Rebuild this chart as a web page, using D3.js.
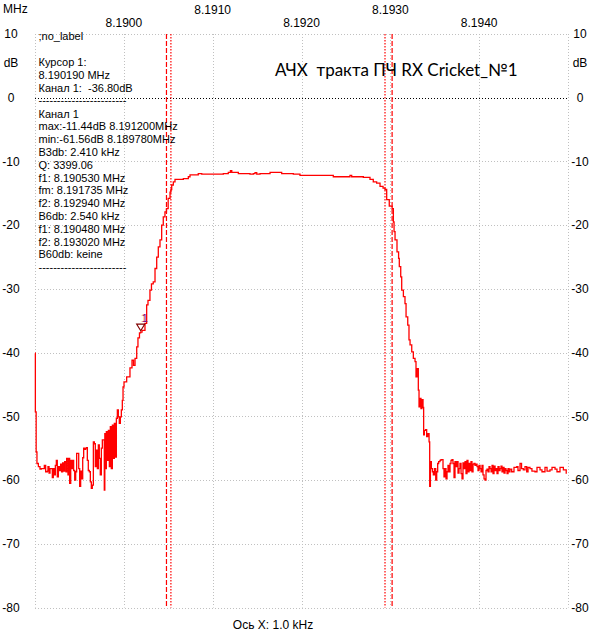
<!DOCTYPE html>
<html>
<head>
<meta charset="utf-8">
<script src="https://cdn.jsdelivr.net/npm/d3@7"></script>
<style>
  body { margin: 0; background: #fff; }
  text { font-family: "Liberation Sans", Arial, sans-serif; fill: #000; white-space: pre; }
</style>
</head>
<body>
<svg id="chart" width="601" height="643"></svg>
<script>
// measured trace, frequency in MHz and level in dB
const traceMHz = [
  8.189000, 8.189004, 8.189013, 8.189022, 8.189038, 8.189056, 8.189071, 8.189094, 8.189105, 8.189120,
  8.189139, 8.189146, 8.189158, 8.189169, 8.189184, 8.189195, 8.189206, 8.189218, 8.189229, 8.189240,
  8.189251, 8.189263, 8.189274, 8.189289, 8.189300, 8.189311, 8.189323, 8.189334, 8.189349, 8.189356,
  8.189371, 8.189379, 8.189390, 8.189402, 8.189413, 8.189424, 8.189435, 8.189447, 8.189458, 8.189469,
  8.189484, 8.189492, 8.189503, 8.189514, 8.189525, 8.189537, 8.189548, 8.189559, 8.189570, 8.189582,
  8.189589, 8.189600, 8.189612, 8.189623, 8.189634, 8.189645, 8.189657, 8.189668, 8.189679, 8.189690,
  8.189702, 8.189713, 8.189724, 8.189735, 8.189747, 8.189758, 8.189780, 8.189786, 8.189792, 8.189803,
  8.189814, 8.189826, 8.189837, 8.189848, 8.189859, 8.189871, 8.189882, 8.189893, 8.189904, 8.189916,
  8.189927, 8.189938, 8.189949, 8.189961, 8.189972, 8.189983, 8.189991, 8.190002, 8.190032, 8.190069,
  8.190092, 8.190109, 8.190126, 8.190145, 8.190159, 8.190176, 8.190190, 8.190205, 8.190238, 8.190257,
  8.190272, 8.190294, 8.190311, 8.190331, 8.190351, 8.190370, 8.190388, 8.190407, 8.190426, 8.190444,
  8.190463, 8.190480, 8.190499, 8.190520, 8.190530, 8.190539, 8.190557, 8.190576, 8.190670, 8.190726,
  8.190745, 8.190838, 8.190877, 8.191120, 8.191176, 8.191200, 8.191215, 8.191289, 8.191420, 8.191458,
  8.191477, 8.191496, 8.191533, 8.191646, 8.191777, 8.191908, 8.191983, 8.192358, 8.192546, 8.192565,
  8.192696, 8.192771, 8.192808, 8.192846, 8.192884, 8.192918, 8.192940, 8.192959, 8.192988, 8.193020,
  8.193034, 8.193042, 8.193053, 8.193075, 8.193093, 8.193101, 8.193117, 8.193128, 8.193147, 8.193165,
  8.193177, 8.193196, 8.193210, 8.193222, 8.193241, 8.193259, 8.193278, 8.193289, 8.193300, 8.193315,
  8.193323, 8.193334, 8.193345, 8.193356, 8.193368, 8.193375, 8.193383, 8.193398, 8.193409, 8.193421,
  8.193436, 8.193443, 8.193451, 8.193462, 8.193473, 8.193484, 8.193496, 8.193511, 8.193522, 8.193533,
  8.193544, 8.193559, 8.193570, 8.193593, 8.193604, 8.193615, 8.193627, 8.193638, 8.193649, 8.193660,
  8.193672, 8.193683, 8.193694, 8.193705, 8.193717, 8.193728, 8.193739, 8.193751, 8.193762, 8.193773,
  8.193784, 8.193796, 8.193807, 8.193818, 8.193829, 8.193841, 8.193852, 8.193863, 8.193874, 8.193886,
  8.193897, 8.193908, 8.193919, 8.193931, 8.193942, 8.193953, 8.193965, 8.193976, 8.193987, 8.193998,
  8.194010, 8.194021, 8.194032, 8.194043, 8.194055, 8.194066, 8.194077, 8.194088, 8.194100, 8.194111,
  8.194122, 8.194134, 8.194145, 8.194156, 8.194167, 8.194179, 8.194190, 8.194201, 8.194212, 8.194224,
  8.194235, 8.194246, 8.194257, 8.194269, 8.194280, 8.194291, 8.194302, 8.194314, 8.194325, 8.194336,
  8.194347, 8.194366, 8.194392, 8.194423, 8.194437, 8.194460, 8.194477, 8.194497, 8.194516, 8.194535,
  8.194550, 8.194572, 8.194594, 8.194628, 8.194651, 8.194685, 8.194707, 8.194741, 8.194764, 8.194797,
  8.194820, 8.194854, 8.194876, 8.194910, 8.194948, 8.194980
];
const traceDb = [
  -40.1, -49.3, -55.6, -57.4, -57.9, -58.3, -58.2, -58.2, -57.7, -58.7,
  -58.6, -57.9, -58.9, -58.2, -58.2, -59.6, -58.2, -59.2, -57.7, -56.9,
  -59.5, -57.9, -58.5, -57.5, -58.7, -57.3, -58.6, -57.1, -58.7, -56.6,
  -59.2, -56.6, -60.5, -56.9, -58.2, -56.9, -58.5, -60.0, -58.7, -55.8,
  -55.8, -58.2, -61.0, -58.6, -59.8, -56.5, -55.0, -55.2, -55.0, -54.9,
  -56.9, -58.5, -58.7, -60.3, -61.3, -60.8, -54.0, -54.3, -57.9, -55.3,
  -58.2, -54.5, -56.6, -59.2, -55.0, -53.7, -61.56, -52.7, -58.2, -52.4,
  -56.9, -52.2, -57.9, -51.6, -58.2, -51.4, -56.6, -51.1, -56.4, -50.3,
  -49.0, -50.1, -51.1, -50.1, -49.0, -47.5, -45.4, -44.6, -43.8, -42.4,
  -41.2, -42.0, -40.9, -39.1, -37.7, -36.9, -36.8, -36.5, -35.4, -32.5,
  -31.8, -30.2, -29.2, -28.9, -26.8, -25.0, -23.4, -22.3, -20.0, -18.7,
  -17.9, -17.4, -15.8, -14.8, -14.4, -13.7, -13.2, -12.8, -12.7, -12.4,
  -12.1, -11.9, -12.0, -11.9, -11.7, -11.44, -11.7, -11.9, -12.0, -11.9,
  -11.75, -12.0, -11.9, -11.7, -11.9, -12.0, -12.2, -12.4, -12.2, -12.4,
  -12.5, -12.8, -13.2, -13.4, -13.9, -14.2, -14.4, -16.0, -17.0, -17.4,
  -19.5, -21.0, -22.3, -24.2, -25.2, -26.5, -28.1, -30.2, -31.2, -32.3,
  -34.4, -35.7, -38.0, -38.8, -39.9, -40.9, -41.4, -43.8, -42.5, -45.9,
  -48.5, -47.2, -48.8, -47.4, -48.6, -52.9, -52.2, -52.1, -53.2, -52.7,
  -54.0, -61.0, -57.1, -58.2, -58.7, -59.2, -58.2, -60.0, -58.7, -57.4,
  -57.1, -56.9, -56.8, -58.2, -59.5, -58.2, -59.8, -58.7, -57.7, -58.7,
  -57.4, -56.9, -56.8, -57.4, -59.6, -57.1, -57.9, -57.1, -58.9, -58.2,
  -57.4, -59.0, -59.8, -57.3, -58.2, -57.1, -59.0, -56.9, -58.7, -57.4,
  -58.5, -57.1, -58.7, -57.5, -57.4, -57.7, -57.5, -57.9, -58.5, -57.7,
  -58.2, -58.7, -57.7, -59.2, -59.8, -60.0, -58.5, -58.3, -58.7, -57.9,
  -58.2, -58.7, -57.7, -59.0, -57.8, -58.5, -58.2, -59.0, -57.9, -58.5,
  -58.2, -57.8, -58.7, -58.0, -58.9, -58.2, -58.5, -59.0, -58.2, -58.7,
  -58.3, -58.7, -58.0, -57.9, -58.5, -57.4, -58.2, -58.4, -57.9, -58.7,
  -58.0, -58.2, -58.6, -58.7, -58.0, -58.4, -58.7, -58.0, -58.6, -58.4,
  -58.0, -58.3, -58.7, -58.0, -58.4, -59.0
];

const gridMHz = [8.189, 8.190, 8.191, 8.192, 8.193, 8.194, 8.195];
const labelMHz = [8.190, 8.191, 8.192, 8.193, 8.194];
const dbTicks = [10, 0, -10, -20, -30, -40, -50, -60, -70, -80];
const band3dB = [8.190530, 8.192940];
const band6dB = [8.190480, 8.193020];
const cursorMHz = 8.190190;
const cursorDb = -36.80;

const cursorLines = [";no_label", "", "Курсор 1:", "8.190190 MHz", "Канал 1:  -36.80dB", "------------------------"];
const statLines = [
  "Канал 1",
  "max:-11.44dB 8.191200MHz",
  "min:-61.56dB 8.189780MHz",
  "B3db: 2.410 kHz",
  "Q: 3399.06",
  "f1: 8.190530 MHz",
  "fm: 8.191735 MHz",
  "f2: 8.192940 MHz",
  "B6db: 2.540 kHz",
  "f1: 8.190480 MHz",
  "f2: 8.193020 MHz",
  "B60db: keine",
  "------------------------"
];
const title = "АЧХ  тракта ПЧ RX Cricket_№1";
const xNote = "Ось X: 1.0 kHz";

const margin = { top: 34, right: 33, bottom: 35.5, left: 35 };
const width = 601, height = 643;

const svg = d3.select("#chart");
svg.append("rect").attr("width", width).attr("height", height).attr("fill", "#fff");

const x = d3.scaleLinear()
  .domain([8.189, 8.195])
  .range([margin.left, width - margin.right]);
const y = d3.scaleLinear()
  .domain([10, -80])
  .range([margin.top, height - margin.bottom]);

// grid
const grid = svg.append("g").attr("fill", "none").attr("stroke-width", 1).attr("stroke-dasharray", "1,2");
grid.selectAll(".vg")
  .data(gridMHz)
  .join("line")
  .attr("x1", d => Math.round(x(d)) + 0.5).attr("x2", d => Math.round(x(d)) + 0.5)
  .attr("y1", y(10)).attr("y2", y(-80))
  .attr("stroke", "#c0c0c0");
grid.selectAll(".hg")
  .data(dbTicks)
  .join("line")
  .attr("x1", x(8.189)).attr("x2", x(8.195))
  .attr("y1", d => Math.round(y(d)) + 0.5).attr("y2", d => Math.round(y(d)) + 0.5)
  .attr("stroke", d => d === 0 ? "#000" : "#c0c0c0");

// top frequency labels, staggered
svg.append("text").attr("x", 3).attr("y", 13).attr("font-size", 12).text("MHz");
svg.append("g").selectAll("text")
  .data(labelMHz)
  .join("text")
  .attr("x", d => x(d))
  .attr("y", (d, i) => i % 2 ? 13.5 : 27)
  .attr("text-anchor", "middle")
  .attr("font-size", 12)
  .text(d => d.toFixed(4));

// dB labels on both sides
[11, 580].forEach(cx => {
  const g = svg.append("g").attr("font-size", 12).attr("text-anchor", "middle");
  g.selectAll("text")
    .data(dbTicks)
    .join("text")
    .attr("x", cx)
    .attr("y", d => y(d))
    .attr("dy", "0.36em")
    .text(d => d);
  g.append("text").attr("x", cx).attr("y", y(5.5)).attr("dy", "0.36em").text("dB");
});

// band edge markers
const bands = svg.append("g").attr("stroke", "#ff0000").attr("stroke-width", 1.2);
bands.selectAll(".b6")
  .data(band6dB)
  .join("line")
  .attr("x1", d => x(d)).attr("x2", d => x(d))
  .attr("y1", y(10)).attr("y2", y(-80))
  .attr("stroke-dasharray", "5,2");
bands.selectAll(".b3")
  .data(band3dB)
  .join("line")
  .attr("x1", d => x(d)).attr("x2", d => x(d))
  .attr("y1", y(10)).attr("y2", y(-80))
  .attr("stroke-dasharray", "1.5,1.5");

// trace
const points = d3.zip(traceMHz, traceDb);
const line = d3.line()
  .x(d => x(d[0]))
  .y(d => y(d[1]))
  .curve(d3.curveStepAfter);
svg.append("path")
  .datum(points)
  .attr("d", line)
  .attr("fill", "none")
  .attr("stroke", "#ff0000")
  .attr("stroke-width", 1.3);

// cursor marker
const cx0 = x(cursorMHz), cy0 = y(cursorDb);
svg.append("path")
  .attr("d", `M${cx0 - 4},${cy0 - 8}L${cx0 + 4},${cy0 - 8}L${cx0},${cy0 - 1.5}Z`)
  .attr("fill", "none")
  .attr("stroke", "#800000")
  .attr("stroke-width", 1.2);
svg.append("text").attr("x", cx0).attr("y", cy0 - 10).attr("font-size", 11)
  .style("fill", "#f0c090").text("1");
svg.append("text").attr("x", cx0 + 1).attr("y", cy0 - 10).attr("font-size", 11)
  .style("fill", "#800080").text("1");

// info text blocks
const info = svg.append("g").attr("font-size", 11);
info.selectAll(".c")
  .data(cursorLines)
  .join("text")
  .attr("x", 38.5)
  .attr("y", (d, i) => 40.4 + i * 12.8)
  .text(d => d);
info.selectAll(".s")
  .data(statLines)
  .join("text")
  .attr("x", 38.5)
  .attr("y", (d, i) => 117.5 + i * 12.8)
  .text(d => d);

svg.append("text")
  .attr("x", 275).attr("y", 76)
  .attr("font-size", 17)
  .style("font-family", "Lato, 'Open Sans', sans-serif")
  .text(title);

svg.append("text")
  .attr("x", 273).attr("y", 629)
  .attr("text-anchor", "middle")
  .attr("font-size", 12)
  .text(xNote);
</script>
</body>
</html>
